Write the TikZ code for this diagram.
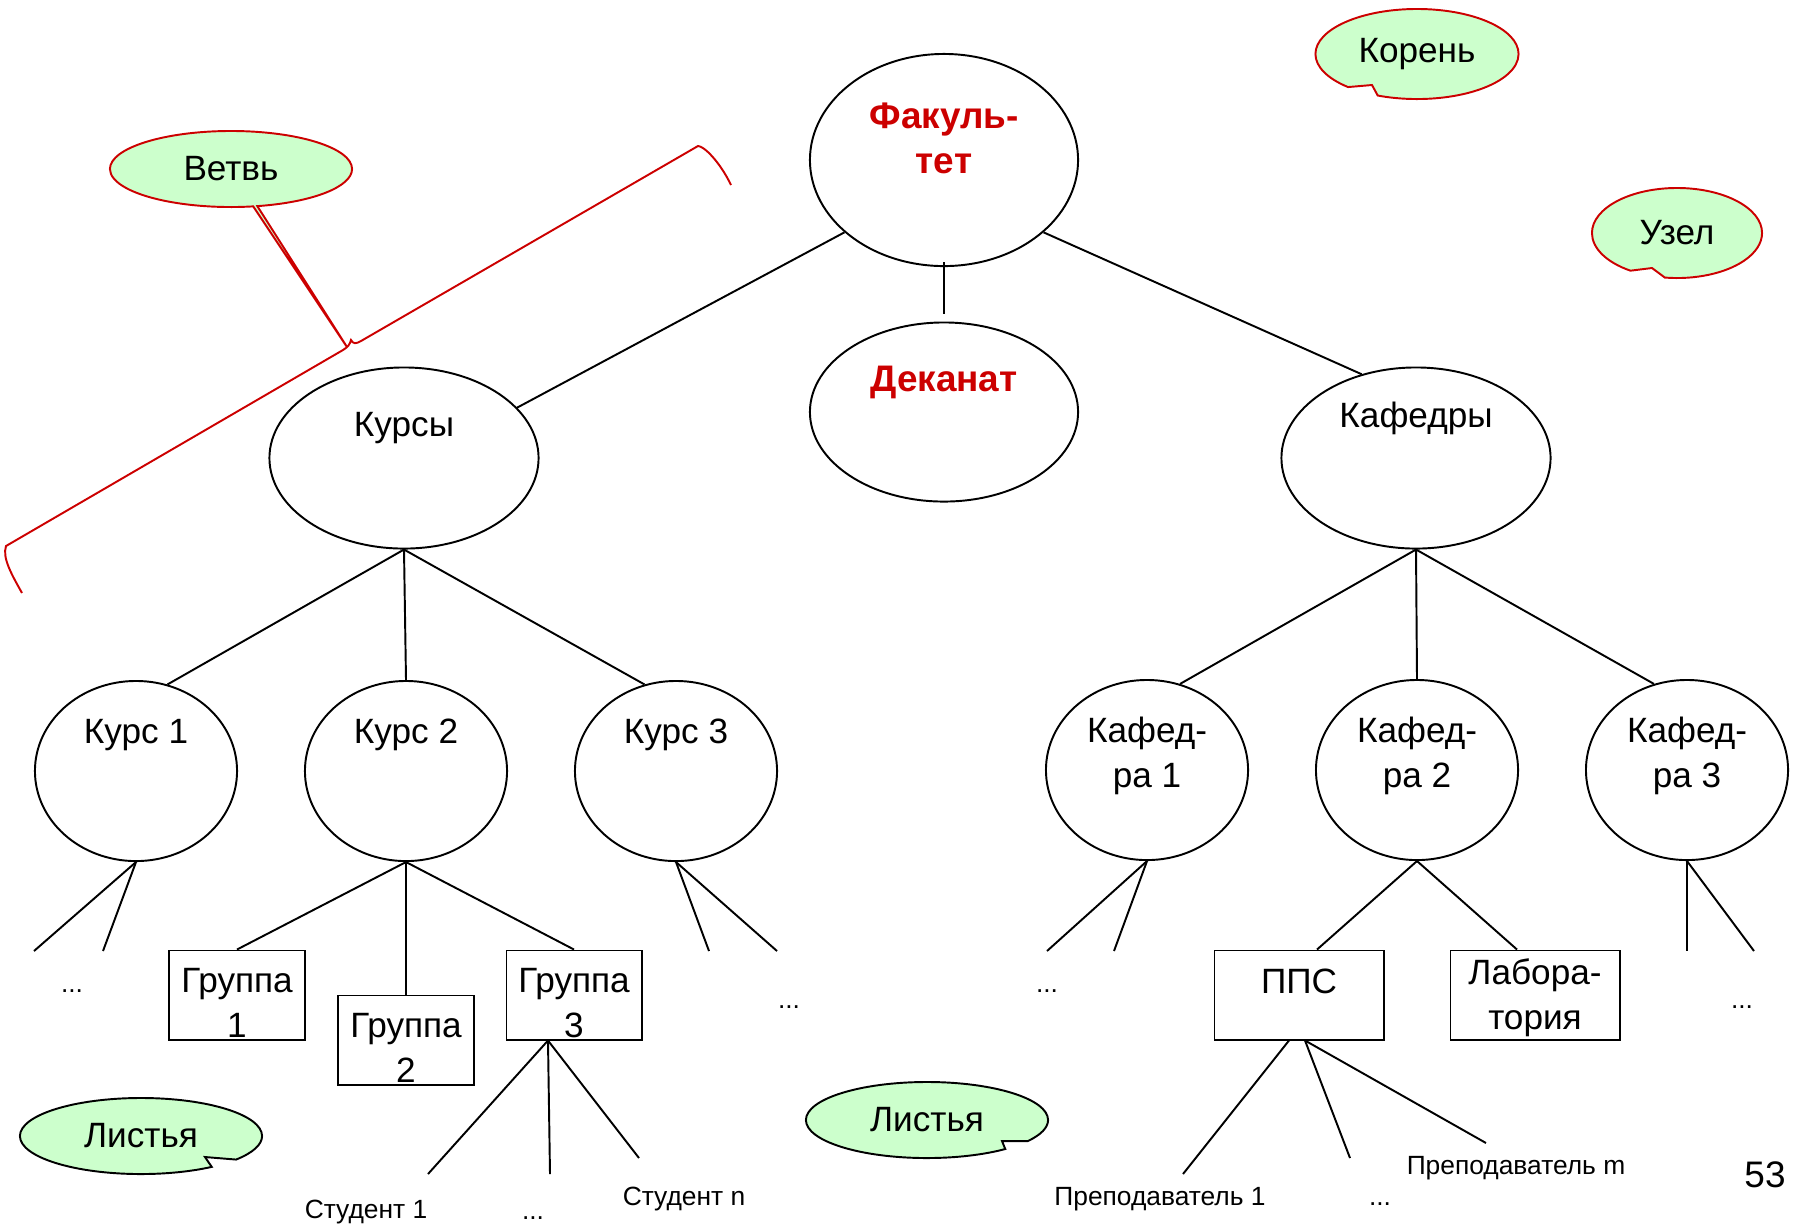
\documentclass[tikz,border=0pt]{standalone}
\usepackage{fontspec}
\setmainfont{Liberation Sans}
\usetikzlibrary{shapes.geometric,shapes.callouts}

\definecolor{headred}{RGB}{204,0,0}
\definecolor{notegreen}{RGB}{204,255,204}

\begin{document}
\begin{tikzpicture}[x=0.01cm, y=-0.01cm,
  bignode/.style={ellipse, draw, line width=0.55pt, inner sep=0pt, minimum width=2.69cm, minimum height=1.81cm},
  unit/.style={ellipse, draw, line width=0.55pt, inner sep=0pt, minimum width=2.02cm, minimum height=1.80cm},
  leaf/.style={rectangle, draw, line width=0.55pt, inner sep=0pt, minimum width=1.35cm, minimum height=0.89cm},
  txt/.style={font=\fontsize{10}{12.8}\selectfont, align=center, inner sep=0pt},
  head/.style={font=\fontsize{10.5}{12.8}\selectfont\bfseries, text=headred, align=center, inner sep=0pt},
  small/.style={font=\fontsize{7.5}{9}\selectfont, inner sep=0pt},
  note/.style={ellipse callout, draw=headred, fill=notegreen, line width=0.55pt, inner sep=0pt, minimum width=2.42cm, minimum height=0.76cm, font=\fontsize{10}{12}\selectfont},
  leafnote/.style={note, draw=black},
  redbrace/.style={draw=headred, line width=0.55pt},
  edge/.style={line width=0.55pt}]

\useasboundingbox (0,0) rectangle (1794,1229);

\node(fac)[bignode, minimum width=2.68cm, minimum height=2.12cm, label={[head,yshift=0.215cm]center:{Факуль-\\тет}}] at (944,160) {};
\node(dek)[bignode, minimum width=2.68cm, minimum height=1.79cm, label={[head,yshift=0.3cm]center:Деканат}] at (944,412) {};
\node(kursy)[bignode, label={[txt,yshift=0.3cm]center:Курсы}] at (404,458) {};
\node(kafedry)[bignode, label={[txt,yshift=0.4cm]center:Кафедры}] at (1416,458) {};

\node(kurs1)[unit, label={[txt,yshift=0.36cm]center:Курс 1}] at (136,771) {};
\node(kurs2)[unit, label={[txt,yshift=0.36cm]center:Курс 2}] at (406,771) {};
\node(kurs3)[unit, label={[txt,yshift=0.36cm]center:Курс 3}] at (676,771) {};
\node(kaf1)[unit, label={[txt,yshift=0.14cm]center:{Кафед-\\ра 1}}] at (1147,770) {};
\node(kaf2)[unit, label={[txt,yshift=0.14cm]center:{Кафед-\\ра 2}}] at (1417,770) {};
\node(kaf3)[unit, label={[txt,yshift=0.14cm]center:{Кафед-\\ра 3}}] at (1687,770) {};

\node(gr1)[leaf, label={[txt,yshift=-0.08cm]center:{Группа\\1}}] at (237,995) {};
\node(gr2)[leaf, label={[txt,yshift=-0.08cm]center:{Группа\\2}}] at (406,1040) {};
\node(gr3)[leaf, label={[txt,yshift=-0.08cm]center:{Группа\\3}}] at (574,995) {};
\node(pps)[leaf, minimum width=1.69cm, label={[txt,yshift=0.14cm]center:ППС}] at (1299,995) {};
\node(lab)[leaf, minimum width=1.69cm, label={[txt,yshift=-0.03cm]center:{Лабора-\\тория}}] at (1535,995) {};

\coordinate(k1a) at (34,951);
\coordinate(k1b) at (103,951);
\coordinate(k3a) at (709,951);
\coordinate(k3b) at (777,951);
\coordinate(kf1a) at (1047,951);
\coordinate(kf1b) at (1114,951);
\coordinate(kf3a) at (1687,951);
\coordinate(kf3b) at (1754,951);
\coordinate(st1) at (428,1174);
\coordinate(st2) at (550,1174);
\coordinate(st3) at (639,1158);
\coordinate(pr1) at (1183,1174);
\coordinate(pr2) at (1350,1158);
\coordinate(pr3) at (1486,1143);
\coordinate(bracetip) at (347,347);

\node(dots1)[small] at (72,991) {...};
\node(dots2)[small] at (789,1007) {...};
\node(dots3)[small] at (1047,991) {...};
\node(dots4)[small] at (1742,1007) {...};
\node(stud1)[small] at (366,1212) {Студент 1};
\node(dots5)[small] at (533,1218) {...};
\node(studn)[small] at (684,1199) {Студент n};
\node(prep1)[small] at (1160,1199) {Преподаватель 1};
\node(dots6)[small] at (1380,1204) {...};
\node(prepm)[small] at (1516,1168) {Преподаватель m};
\node(page)[txt, font=\fontsize{10.5}{12}\selectfont] at (1765,1175) {53};

\draw [edge] (fac.216) -- (kursy.24);
\draw [edge] ([yshift=0.05cm]fac.south) -- ([yshift=0.07cm]dek.north);
\draw [edge] (fac.324) -- (kafedry.123);
\draw [edge] (kursy.south) -- (kurs1.70);
\draw [edge] (kursy.south) -- (kurs2.north);
\draw [edge] (kursy.south) -- (kurs3.110);
\draw [edge] (kafedry.south) -- (kaf1.69);
\draw [edge] (kafedry.south) -- (kaf2.north);
\draw [edge] (kafedry.south) -- (kaf3.111);
\draw [edge] (kurs1.south) -- (k1a);
\draw [edge] (kurs1.south) -- (k1b);
\draw [edge] (kurs2.south) -- (gr1.north);
\draw [edge] (kurs2.south) -- (gr2.north);
\draw [edge] (kurs2.south) -- (gr3.north);
\draw [edge] (kurs3.south) -- (k3a);
\draw [edge] (kurs3.south) -- (k3b);
\draw [edge] (kaf1.south) -- (kf1a);
\draw [edge] (kaf1.south) -- (kf1b);
\draw [edge] (kaf2.south) -- ([xshift=0.18cm]pps.north);
\draw [edge] (kaf2.south) -- ([xshift=-0.18cm]lab.north);
\draw [edge] (kaf3.south) -- (kf3a);
\draw [edge] (kaf3.south) -- (kf3b);
\draw [edge] ([xshift=-0.26cm]gr3.south) -- (st1);
\draw [edge] ([xshift=-0.26cm]gr3.south) -- (st2);
\draw [edge] ([xshift=-0.26cm]gr3.south) -- (st3);
\draw [edge] ([xshift=-0.1cm]pps.south) -- (pr1);
\draw [edge] ([xshift=0.06cm]pps.south) -- (pr2);
\draw [edge] ([xshift=0.06cm]pps.south) -- (pr3);

\draw [redbrace] (22,593) .. controls (12,575) and (2,558) .. (6,546) -- (343,350)
  .. controls (348,347) and (350,344) .. (351,340) .. controls (353,344) and (356,344) .. (361,341)
  -- (698,146) .. controls (704,146) and (720,162) .. (731,185);

\node(root)[note, minimum width=2.03cm, minimum height=0.9cm, callout absolute pointer={(1372,85)}, callout pointer arc=20] at (1417,54) {Корень};
\node(inner)[note, minimum width=1.7cm, minimum height=0.9cm, callout absolute pointer={(1652,268)}, callout pointer arc=25] at (1677,233) {Узел};
\node(branch)[note, callout absolute pointer={(bracetip)}, callout pointer arc=2] at (231,169) {Ветвь};
\node(leaves1)[leafnote, callout absolute pointer={(205,1157)}, callout pointer arc=16] at (141,1136) {Листья};
\node(leaves2)[leafnote, callout absolute pointer={(1002,1141)}, callout pointer arc=16] at (927,1120) {Листья};
\end{tikzpicture}
\end{document}
